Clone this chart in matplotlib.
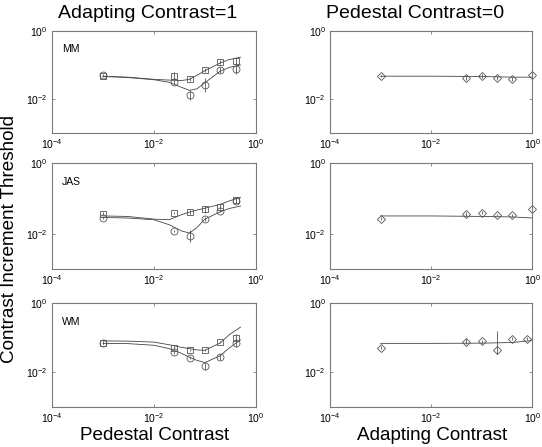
import matplotlib
matplotlib.use("Agg")
import matplotlib.pyplot as plt
import numpy as np

plt.rcParams['font.family'] = ['Liberation Sans', 'DejaVu Sans']
plt.rcParams['mathtext.fontset'] = 'custom'
plt.rcParams['mathtext.rm'] = 'Liberation Sans'

subjects = ["MM", "JAS", "WM"]

# left column: threshold vs pedestal contrast (adapting contrast = 1)
x_ped = [0.001, 0.025, 0.05, 0.1, 0.2, 0.4]
sq = {
    "MM": [0.048, 0.048, 0.039, 0.071, 0.12, 0.13],
    "JAS": [0.037, 0.038, 0.041, 0.049, 0.059, 0.09],
    "WM": [0.072, 0.051, 0.044, 0.043, 0.075, 0.10],
}
sq_err = {
    "MM": [0.03, 0.10, 0.05, 0.05, 0.06, 0.10],
    "JAS": [0.04, 0.03, 0.05, 0.10, 0.08, 0.06],
    "WM": [0.03, 0.05, 0.03, 0.03, 0.04, 0.10],
}
circ = {
    "MM": [0.050, 0.032, 0.013, 0.026, 0.071, 0.076],
    "JAS": [0.028, 0.012, 0.0088, 0.026, 0.045, 0.085],
    "WM": [0.070, 0.038, 0.026, 0.015, 0.028, 0.072],
}
circ_err = {
    "MM": [0.03, 0.05, 0.14, 0.20, 0.10, 0.13],
    "JAS": [0.03, 0.04, 0.17, 0.06, 0.05, 0.06],
    "WM": [0.03, 0.04, 0.04, 0.10, 0.08, 0.12],
}

# fitted curves, left column
x_fit = [0.001, 0.003, 0.01, 0.02, 0.035, 0.05, 0.07, 0.1, 0.2, 0.3, 0.5]
sq_fit = {
    "MM": [0.047, 0.044, 0.038, 0.036, 0.035, 0.038, 0.050, 0.068, 0.115, 0.145, 0.17],
    "JAS": [0.032, 0.031, 0.026, 0.025, 0.035, 0.041, 0.047, 0.053, 0.068, 0.085, 0.108],
    "WM": [0.080, 0.079, 0.074, 0.062, 0.052, 0.048, 0.044, 0.043, 0.070, 0.12, 0.20],
}
circ_fit = {
    "MM": [0.046, 0.043, 0.037, 0.031, 0.022, 0.018, 0.020, 0.030, 0.066, 0.085, 0.10],
    "JAS": [0.029, 0.028, 0.025, 0.018, 0.012, 0.0105, 0.015, 0.026, 0.042, 0.052, 0.061],
    "WM": [0.068, 0.067, 0.060, 0.048, 0.035, 0.027, 0.022, 0.019, 0.030, 0.050, 0.086],
}

# right column: threshold vs adapting contrast (pedestal contrast = 0)
x_adapt = {
    "MM": [0.001, 0.05, 0.1, 0.2, 0.4, 1.0],
    "JAS": [0.001, 0.05, 0.1, 0.2, 0.4, 1.0],
    "WM": [0.001, 0.05, 0.1, 0.2, 0.4, 0.8],
}
dia = {
    "MM": [0.049, 0.042, 0.047, 0.041, 0.039, 0.050],
    "JAS": [0.027, 0.036, 0.040, 0.034, 0.033, 0.049],
    "WM": [0.051, 0.077, 0.078, 0.045, 0.093, 0.093],
}
dia_err_dn = {
    "MM": [0.03, 0.06, 0.05, 0.05, 0.05, 0.04],
    "JAS": [0.04, 0.05, 0.05, 0.04, 0.04, 0.04],
    "WM": [0.04, 0.06, 0.05, 0.14, 0.04, 0.04],
}
dia_err_up = {
    "MM": [0.03, 0.06, 0.05, 0.05, 0.05, 0.04],
    "JAS": [0.04, 0.05, 0.05, 0.04, 0.04, 0.04],
    "WM": [0.04, 0.06, 0.05, 0.54, 0.04, 0.04],
}
x_fit_r = [0.001, 0.01, 0.1, 0.4, 1.0]
dia_fit = {
    "MM": [0.047, 0.047, 0.046, 0.044, 0.044],
    "JAS": [0.032, 0.032, 0.031, 0.030, 0.028],
    "WM": [0.068, 0.068, 0.069, 0.072, 0.082],
}

line_c = "#444444"
mk_c = "#555555"
frame_c = "#7a7a7a"


def log_err(y, dn, up):
    y = np.array(y)
    return [y - y / 10 ** np.array(dn), y * 10 ** np.array(up) - y]


def style(ax):
    ax.set_xscale("log")
    ax.set_yscale("log")
    ax.set_xlim(1e-4, 1)
    ax.set_ylim(1e-3, 1)
    ax.set_xticks([1e-4, 1e-2, 1])
    ax.set_yticks([1e-2, 1])
    ax.minorticks_off()
    ax.tick_params(direction="in", length=2, width=0.6, labelsize=7.5,
                   top=True, right=True, color=frame_c, pad=3)
    for s in ax.spines.values():
        s.set_color(frame_c)
        s.set_linewidth(0.8)


fig = plt.figure(figsize=(5.42, 4.47), dpi=100)
rows = [(0.7025, 0.228), (0.398, 0.237), (0.0895, 0.233)]

for i, s in enumerate(subjects):
    b, h = rows[i]
    axl = fig.add_axes([0.096, b, 0.376, h])
    axr = fig.add_axes([0.609, b, 0.373, h])

    axl.plot(x_fit, sq_fit[s], color=line_c, lw=0.6)
    axl.plot(x_fit, circ_fit[s], color=line_c, lw=0.6)
    axl.errorbar(x_ped, sq[s], yerr=log_err(sq[s], sq_err[s], sq_err[s]), fmt="s",
                 ms=4.5, mfc="none", mec=mk_c, mew=0.6, ecolor=mk_c, elinewidth=0.6, capsize=0)
    axl.errorbar(x_ped, circ[s], yerr=log_err(circ[s], circ_err[s], circ_err[s]), fmt="o",
                 ms=5, mfc="none", mec=mk_c, mew=0.6, ecolor=mk_c, elinewidth=0.6, capsize=0)
    axl.text(0.05, 0.82, s, transform=axl.transAxes, fontsize=7.5, va="center")
    style(axl)

    axr.plot(x_fit_r, dia_fit[s], color=line_c, lw=0.6)
    axr.errorbar(x_adapt[s], dia[s], yerr=log_err(dia[s], dia_err_dn[s], dia_err_up[s]), fmt="D",
                 ms=4, mfc="none", mec=mk_c, mew=0.6, ecolor=mk_c, elinewidth=0.6, capsize=0,
                 clip_on=False)
    style(axr)

fig.text(148 / 542, 1 - 13 / 447, "Adapting Contrast=1", ha="center", va="center", fontsize=14)
fig.text(415 / 542, 1 - 13 / 447, "Pedestal Contrast=0", ha="center", va="center", fontsize=14)
fig.text(10 / 542, 1 - 239 / 447, "Contrast Increment Threshold", ha="center", va="center",
         rotation=90, fontsize=13.6)
fig.text(155 / 542, 1 - 436 / 447, "Pedestal Contrast", ha="center", va="center", fontsize=13.6)
fig.text(432 / 542, 1 - 436 / 447, "Adapting Contrast", ha="center", va="center", fontsize=13.6)

fig.savefig("out.png", dpi=100)
